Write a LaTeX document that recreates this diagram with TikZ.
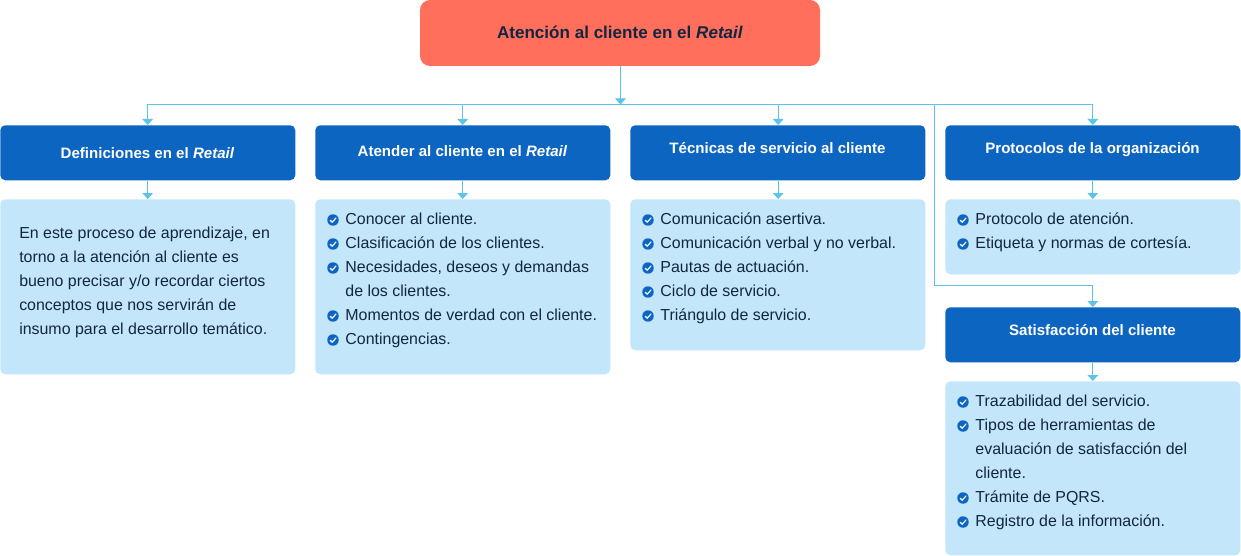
\documentclass[tikz,border=0pt]{standalone}
\usepackage{fontspec}
\setmainfont{Liberation Sans}
\usetikzlibrary{arrows.meta}
\definecolor{redbox}{HTML}{FF6F5C}
\definecolor{bluebox}{HTML}{0D65C2}
\definecolor{lightbox}{HTML}{C3E6FA}
\definecolor{conn}{HTML}{5BC4E8}
\definecolor{ink}{HTML}{12263F}
\tikzset{
  x=0.75pt,y=-0.75pt,
  topbox/.style={fill=redbox,rounded corners=7.5pt,inner sep=0,minimum width=300pt,minimum height=49.5pt},
  headbox/.style={fill=bluebox,rounded corners=3.75pt,inner sep=0,minimum width=221.25pt,minimum height=41.25pt,anchor=north west},
  panel/.style={fill=lightbox,rounded corners=3.75pt,inner sep=0,minimum width=221.25pt,anchor=north west},
  headtxt/.style={text=white,font=\bfseries\fontsize{11.3}{14}\selectfont,inner sep=0,anchor=base},
  bodytxt/.style={text=ink,font=\fontsize{11.95}{18}\selectfont,align=left,inner sep=0,anchor=north west},
  link/.style={draw=conn,line width=0.75pt},
  arr/.style={link,-{Triangle[width=8pt,length=4.5pt]}},
}
\newcommand{\chk}[2]{%
  \fill[bluebox] (#1,#2) circle (4.3pt);
  \draw[white,line width=0.9pt,line cap=round,line join=round] (#1-2.8,#2+0.2) -- (#1-0.8,#2+2.2) -- (#1+3,#2-2);
}
% #1 column text x, #2 first line baseline, #3 text
\newcommand{\itm}[3]{%
  \chk{#1-12.2}{#2-3.5}
  \node[bodytxt] at (#1,#2-16.3) {\strut #3};
}
\begin{document}
\begin{tikzpicture}
\useasboundingbox (0,0) rectangle (1241,556);
% boxes
\node[topbox] (top) at (620,33) {};
\node[text=ink,font=\bfseries\fontsize{12.8}{15}\selectfont,inner sep=0,anchor=base] (toptxt) at (620,39) {Atención al cliente en el \textit{Retail}};
\node[headbox] (h1) at (0,125) {};
\node[headbox] (h2) at (315,125) {};
\node[headbox] (h3) at (630,125) {};
\node[headbox] (h4) at (945,125) {};
\node[headbox] (h5) at (945,307) {};
\node[panel,minimum height=131.25pt] (p1) at (0,199) {};
\node[panel,minimum height=131.25pt] (p2) at (315,199) {};
\node[panel,minimum height=113.25pt] (p3) at (630,199) {};
\node[panel,minimum height=56.25pt] (p4) at (945,199) {};
\node[panel,minimum height=130.5pt] (p5) at (945,381) {};
% headings
\node[headtxt] (t1) at (147.5,158.5) {Definiciones en el \textit{Retail}};
\node[headtxt] (t2) at (462.5,156.5) {Atender al cliente en el \textit{Retail}};
\node[headtxt] (t3) at (777.5,153.5) {Técnicas de servicio al cliente};
\node[headtxt] (t4) at (1092.5,153.5) {Protocolos de la organización};
\node[headtxt] (t5) at (1092.5,335.5) {Satisfacción del cliente};
% connectors
\coordinate (busm) at (620.5,104.5);
\coordinate (bus1) at (147.7,104.5);
\coordinate (bus2) at (462.7,104.5);
\coordinate (bus3) at (778.2,104.5);
\coordinate (bus4) at (1092.8,104.5);
\coordinate (busb) at (934.8,104.5);
\coordinate (bend) at (934.8,285.7);
\coordinate (bend2) at (1092.8,285.7);
\draw[arr] (top.south -| busm) -- (busm);
\draw[link] (bus1) -- (bus4);
\draw[arr] (bus1) -- (h1.north -| bus1);
\draw[arr] (bus2) -- (h2.north -| bus2);
\draw[arr] (bus3) -- (h3.north -| bus3);
\draw[arr] (bus4) -- (h4.north -| bus4);
\draw[link] (busb) -- (bend) -- (bend2);
\draw[arr] (bend2) -- (h5.north -| bend2);
\draw[arr] (h1.south -| bus1) -- (p1.north -| bus1);
\draw[arr] (h2.south -| bus2) -- (p2.north -| bus2);
\draw[arr] (h3.south -| bus3) -- (p3.north -| bus3);
\draw[arr] (h4.south -| bus4) -- (p4.north -| bus4);
\draw[arr] (h5.south -| bus4) -- (p5.north -| bus4);
% texts
\node[bodytxt] (para) at (19,221.2) {\strut En este proceso de aprendizaje, en\\ torno a la atención al cliente es\\ bueno precisar y/o recordar ciertos\\ conceptos que nos servirán de\\ insumo para el desarrollo temático.};
\itm{345.2}{223.5}{Conocer al cliente.}
\itm{345.2}{247.5}{Clasificación de los clientes.}
\itm{345.2}{271.5}{Necesidades, deseos y demandas\\ de los clientes.}
\itm{345.2}{319.5}{Momentos de verdad con el cliente.}
\itm{345.2}{343.5}{Contingencias.}
\itm{660.2}{223.5}{Comunicación asertiva.}
\itm{660.2}{247.5}{Comunicación verbal y no verbal.}
\itm{660.2}{271.5}{Pautas de actuación.}
\itm{660.2}{295.5}{Ciclo de servicio.}
\itm{660.2}{319.5}{Triángulo de servicio.}
\itm{975.2}{223.5}{Protocolo de atención.}
\itm{975.2}{247.5}{Etiqueta y normas de cortesía.}
\itm{975.2}{405.5}{Trazabilidad del servicio.}
\itm{975.2}{429.5}{Tipos de herramientas de\\ evaluación de satisfacción del\\ cliente.}
\itm{975.2}{501.5}{Trámite de PQRS.}
\itm{975.2}{525.5}{Registro de la información.}
\end{tikzpicture}
\end{document}
